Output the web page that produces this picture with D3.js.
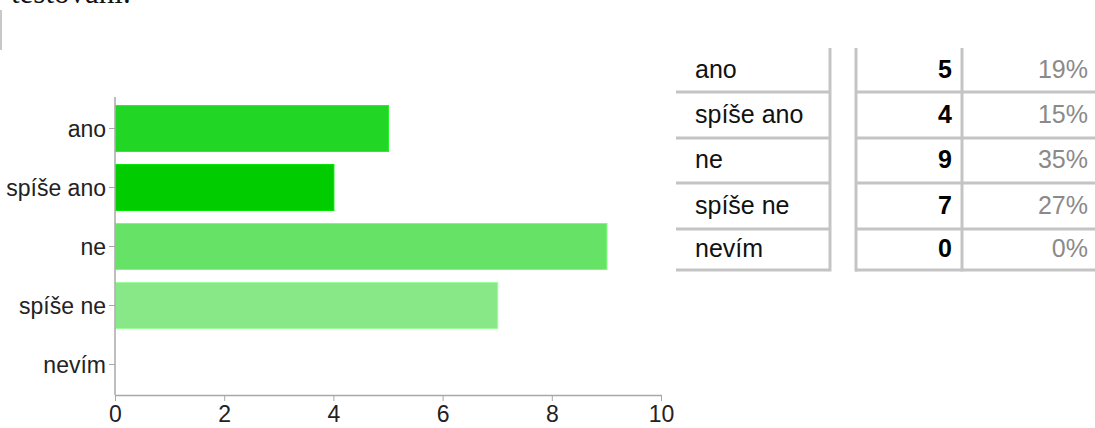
<!DOCTYPE html>
<html>
<head>
<meta charset="utf-8">
<script src="https://cdn.jsdelivr.net/npm/d3@7"></script>
<style>
  html, body { margin: 0; padding: 0; background: #fff; }
  svg { display: block; }
</style>
</head>
<body>
<svg id="chart" width="1095" height="428"></svg>
<script>
const categories = ["ano", "spíše ano", "ne", "spíše ne", "nevím"];
const counts = [5, 4, 9, 7, 0];
const percents = ["19%", "15%", "35%", "27%", "0%"];
const barColors = ["#21d624", "#00cc00", "#66e366", "#88e888", "#a8efa8"];
const xTicks = [0, 2, 4, 6, 8, 10];
const headingText = "testování.";

const svg = d3.select("#chart");
const font = "'Liberation Sans', Arial, Helvetica, sans-serif";

// heading cut off at the top (as in the reference)
svg.append("text")
  .attr("x", 11).attr("y", 3)
  .attr("font-family", "'Liberation Serif', 'Times New Roman', serif")
  .attr("font-size", 31)
  .attr("fill", "#111")
  .text(headingText);

// gray left marker bar
svg.append("rect")
  .attr("x", 0).attr("y", 10).attr("width", 2).attr("height", 40)
  .attr("fill", "#c8c8c8");

// ---- bar chart ----
const x = d3.scaleLinear().domain([0, 10]).range([115, 661]);
const y = d3.scaleBand().domain(categories).range([99, 394])
  .paddingInner(0.22).paddingOuter(0.11);

const g = svg.append("g");

g.selectAll("rect.bar")
  .data(categories)
  .join("rect")
  .attr("class", "bar")
  .attr("x", x(0) + 0.5)
  .attr("y", d => y(d))
  .attr("width", (d, i) => Math.max(0, x(counts[i]) - x(0)))
  .attr("height", y.bandwidth())
  .attr("fill", (d, i) => barColors[i])
  .attr("stroke", (d, i) => d3.color(barColors[i]).brighter(0.35))
  .attr("stroke-width", (d, i) => counts[i] > 0 ? 1 : 0);

// y axis
const yAxis = g.append("g")
  .attr("transform", `translate(${x(0)},0)`)
  .call(d3.axisLeft(y).tickSize(6).tickSizeOuter(0).tickPadding(3));
yAxis.select(".domain").attr("d", `M0,97V395`).attr("stroke", "#a8a8a8").attr("stroke-width", 1.5);
yAxis.selectAll(".tick line").attr("stroke", "#a8a8a8");
yAxis.selectAll(".tick text")
  .attr("font-family", font).attr("font-size", 23).attr("fill", "#222")
  .attr("dy", "0.35em");

// x axis
const xAxis = g.append("g")
  .attr("transform", `translate(0,395)`)
  .call(d3.axisBottom(x).tickValues(xTicks).tickSize(6).tickSizeOuter(0).tickPadding(5));
xAxis.select(".domain").attr("stroke", "#a8a8a8").attr("stroke-width", 1.5);
xAxis.selectAll(".tick line").attr("stroke", "#a8a8a8");
xAxis.selectAll(".tick text")
  .attr("font-family", font).attr("font-size", 23).attr("fill", "#222");

// ---- table ----
const rowTop = 48;
const rowBottoms = [92, 138, 183, 229, 270];
const lineColor = "#c4c4c4";
const tfont = 25;
const t = svg.append("g");

// left table (labels)
t.selectAll("line.hl")
  .data(categories)
  .join("line")
  .attr("x1", 676).attr("x2", 829)
  .attr("y1", (d, i) => rowBottoms[i]).attr("y2", (d, i) => rowBottoms[i])
  .attr("stroke", lineColor).attr("stroke-width", 3);
t.append("line").attr("x1", 830).attr("x2", 830).attr("y1", rowTop).attr("y2", 271.5)
  .attr("stroke", lineColor).attr("stroke-width", 3);

// right table (counts, percents)
t.selectAll("line.hr")
  .data(categories)
  .join("line")
  .attr("x1", 855).attr("x2", 1095)
  .attr("y1", (d, i) => rowBottoms[i]).attr("y2", (d, i) => rowBottoms[i])
  .attr("stroke", lineColor).attr("stroke-width", 3);
t.append("line").attr("x1", 856).attr("x2", 856).attr("y1", rowTop).attr("y2", 271.5)
  .attr("stroke", lineColor).attr("stroke-width", 3);
t.append("line").attr("x1", 962).attr("x2", 962).attr("y1", rowTop).attr("y2", 271.5)
  .attr("stroke", lineColor).attr("stroke-width", 3);

const rowCenter = i => {
  const top = i === 0 ? rowTop : rowBottoms[i - 1];
  return (top + rowBottoms[i]) / 2 - 1;
};

t.selectAll("text.lab")
  .data(categories)
  .join("text")
  .attr("x", 695)
  .attr("y", (d, i) => rowCenter(i))
  .attr("dy", "0.35em")
  .attr("font-family", font).attr("font-size", tfont).attr("fill", "#111")
  .text(d => d);

t.selectAll("text.cnt")
  .data(counts)
  .join("text")
  .attr("x", 952)
  .attr("y", (d, i) => rowCenter(i))
  .attr("dy", "0.35em")
  .attr("text-anchor", "end")
  .attr("font-family", font).attr("font-size", tfont).attr("font-weight", "bold").attr("fill", "#000")
  .text(d => d);

t.selectAll("text.pct")
  .data(percents)
  .join("text")
  .attr("x", 1088)
  .attr("y", (d, i) => rowCenter(i))
  .attr("dy", "0.35em")
  .attr("text-anchor", "end")
  .attr("font-family", font).attr("font-size", tfont).attr("fill", "#8a8a8a")
  .text(d => d);
</script>
</body>
</html>
